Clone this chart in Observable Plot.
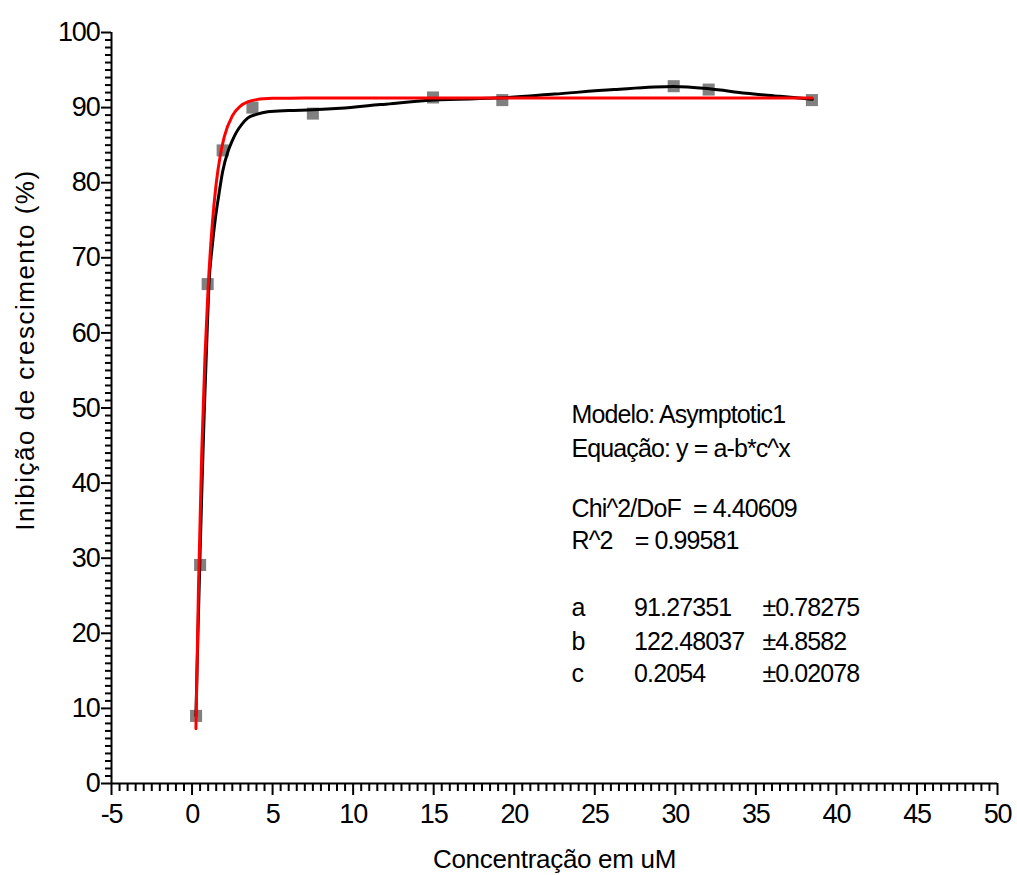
<!DOCTYPE html>
<html><head><meta charset="utf-8">
<script src="https://cdn.jsdelivr.net/npm/d3@7"></script>
<script src="https://cdn.jsdelivr.net/npm/@observablehq/plot@0.6"></script>
<style>
body{margin:0;background:#fff;}
</style></head><body><div id="chart"></div>
<script>
// measured data (squares)
const concentration = [0.25, 0.5, 0.97, 1.9, 3.75, 7.5, 14.96, 19.26, 29.9, 32.07, 38.48];
const inhibition    = [9.0, 29.1, 66.5, 84.3, 90.0, 89.2, 91.35, 91.0, 92.85, 92.4, 91.0];

// red fitted curve
const fitX = [0.24, 0.4, 0.6, 0.8, 1.0, 1.25, 1.5, 1.75, 2.0, 2.5, 3.0, 3.5, 4.0, 5.0, 6.0, 8.0, 38.5];
const fitY = [7.3, 26.2, 43.9, 56.7, 66.1, 74.3, 79.9, 83.6, 86.1, 88.9, 90.2, 90.8, 91.06, 91.23, 91.26, 91.27, 91.27];

// black smoothed curve
const smoothX = [0.24, 0.36, 0.48, 0.62, 0.75, 0.9, 1.05, 1.25, 1.45, 1.65, 1.9, 2.25, 2.5, 2.75, 3.1, 3.45, 4.0, 4.7, 6.0, 7.5, 9.2, 11.7, 15, 19.3, 22.5, 26.2, 29.9, 32.1, 34.4, 36.5, 38.5];
const smoothY = [9.0, 19.5, 29.2, 40, 49, 58, 66.5, 71.5, 75.3, 78.2, 81.5, 84.3, 85.6, 86.7, 87.8, 88.6, 89.1, 89.45, 89.6, 89.7, 89.9, 90.4, 91.0, 91.3, 91.8, 92.4, 92.8, 92.5, 91.9, 91.5, 91.1];

const xTickLabels = [-5, 0, 5, 10, 15, 20, 25, 30, 35, 40, 45, 50];
const yTickLabels = [0, 10, 20, 30, 40, 50, 60, 70, 80, 90, 100];
const xTitle = "Concentração em uM";
const yTitle = "Inibição de crescimento (%)";

const modelLines = ["Modelo: Asymptotic1", "Equação: y = a-b*c^x"];
const statNames = ["Chi^2/DoF", "R^2"];
const statValues = ["= 4.40609", "= 0.99581"];
const paramNames = ["a", "b", "c"];
const paramValues = ["91.27351", "122.48037", "0.2054"];
const paramErrors = ["±0.78275", "±4.8582", "±0.02078"];

const points = concentration.map((x, i) => ({x, y: inhibition[i]}));
const fit = fitX.map((x, i) => ({x, y: fitY[i]}));
const smooth = smoothX.map((x, i) => ({x, y: smoothY[i]}));

const xMinor = d3.range(-5, 50.01, 0.5).filter(v => v % 5 !== 0);
const yMinor = d3.range(0, 101, 1).filter(v => v % 10 !== 0);

// annotation layout (data coordinates)
const col1 = 23.56, col2 = 27.44, col3 = 35.41;
const modelRows = [47.94, 43.48];
const statRows = [35.49, 31.22];
const statValueX = [31.1, 27.48];
const paramRows = [22.24, 17.84, 13.45];

const annoFont = {fontSize: 25, lineAnchor: "bottom", textAnchor: "start", fill: "#000"};

const chart = Plot.plot({
  width: 1017, height: 875,
  marginLeft: 111, marginRight: 20, marginTop: 32, marginBottom: 92,
  x: {domain: [-5, 50]},
  y: {domain: [0, 100]},
  style: {fontFamily: "'Liberation Sans', Arial, Helvetica, sans-serif", fontSize: "27px", background: "#fff", color: "#000", letterSpacing: "-1.2px"},
  marks: [
    Plot.axisX({ticks: xMinor, tickSize: 8, tickFormat: () => "", label: null, strokeWidth: 2}),
    Plot.axisX({ticks: xTickLabels, tickSize: 12, tickPadding: 8, tickFormat: d => String(d), label: null, strokeWidth: 2, fontSize: 27}),
    Plot.axisY({ticks: yMinor, tickSize: 6, tickFormat: () => "", label: null, strokeWidth: 2}),
    Plot.axisY({ticks: yTickLabels, tickSize: 10, tickPadding: 2, tickFormat: d => String(d), label: null, strokeWidth: 2, fontSize: 27}),
    Plot.ruleY([0], {x1: -5, x2: 50, stroke: "#000", strokeWidth: 2}),
    Plot.ruleX([-5], {y1: 0, y2: 100, stroke: "#000", strokeWidth: 2}),
    Plot.dot(points, {x: "x", y: "y", symbol: "square", r: 6.8, fill: "#808080", stroke: "none"}),
    Plot.line(smooth, {x: "x", y: "y", curve: "monotone-x", stroke: "#000", strokeWidth: 3}),
    Plot.line(fit, {x: "x", y: "y", curve: "monotone-x", stroke: "#ff0000", strokeWidth: 3}),
    Plot.text(modelLines, {x: col1, y: (d, i) => modelRows[i], text: d => d, ...annoFont}),
    Plot.text(statNames, {x: col1, y: (d, i) => statRows[i], text: d => d, ...annoFont}),
    Plot.text(statValues, {x: (d, i) => statValueX[i], y: (d, i) => statRows[i], text: d => d, ...annoFont}),
    Plot.text(paramNames, {x: col1, y: (d, i) => paramRows[i], text: d => d, ...annoFont}),
    Plot.text(paramValues, {x: col2, y: (d, i) => paramRows[i], text: d => d, ...annoFont}),
    Plot.text(paramErrors, {x: col3, y: (d, i) => paramRows[i], text: d => d, ...annoFont}),
    Plot.text([xTitle], {frameAnchor: "bottom", dy: 84, text: d => d, fontSize: 26, lineAnchor: "bottom", textAnchor: "middle", fill: "#000"}),
    Plot.text([yTitle], {frameAnchor: "left", dx: -78, dy: -58, rotate: -90, text: d => d, fontSize: 26, lineAnchor: "bottom", textAnchor: "middle", fill: "#000"})
  ]
});

document.getElementById("chart").appendChild(chart);
const annoTexts = [...modelLines, ...statNames, ...statValues, ...paramNames, ...paramValues, ...paramErrors];
chart.querySelectorAll("text").forEach(t => {
  const s = t.textContent;
  if (s === yTitle) t.style.letterSpacing = "1.5px";
  else if (s === xTitle) t.style.letterSpacing = "-0.3px";
  else if (annoTexts.includes(s)) t.style.letterSpacing = "-0.9px";
});
</script>
</body></html>
